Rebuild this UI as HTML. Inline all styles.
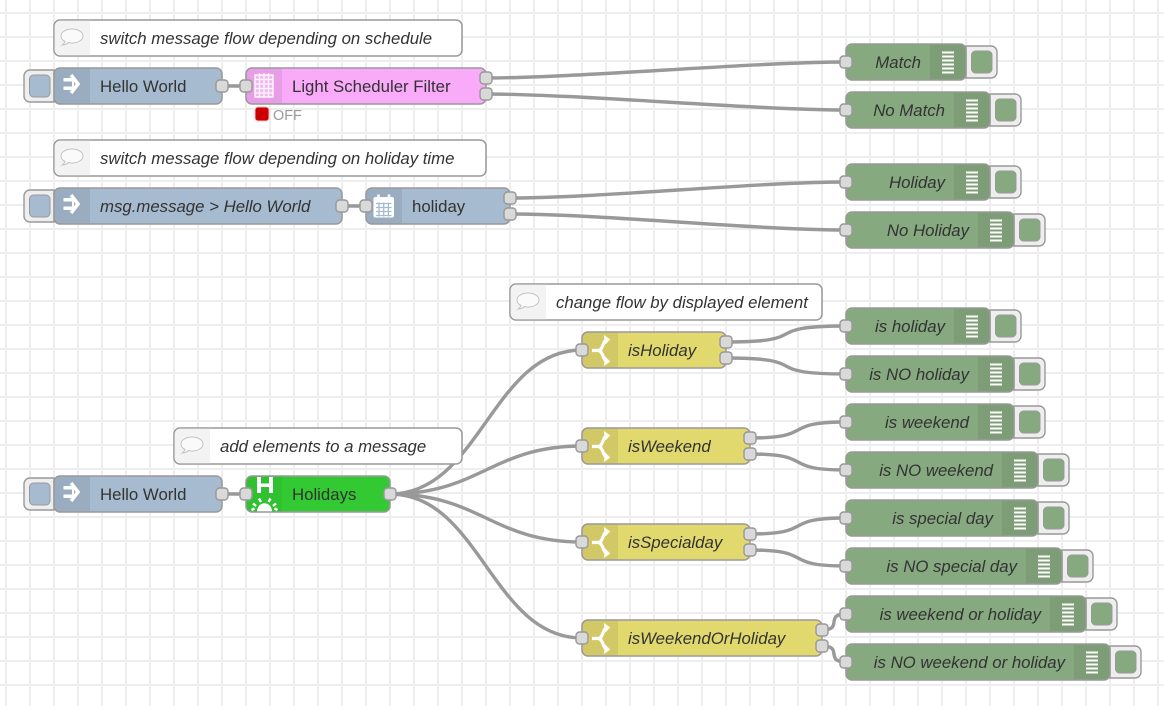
<!DOCTYPE html>
<html><head><meta charset="utf-8"><style>
html,body{margin:0;padding:0;background:#fff}
svg{display:block}
text{font-family:"Liberation Sans",Arial,sans-serif;font-size:16.8px;fill:#333}
.i{font-style:italic}
.w{fill:none;stroke:#999;stroke-width:3.4}
.n{stroke:#999;stroke-width:1.5}
.s{fill:rgba(0,0,0,.07)}
.p{fill:#d9d9d9;stroke:#999;stroke-width:1.4}
.b{fill:#eee;stroke:#999;stroke-width:1.4}
</style></head><body>
<svg width="1164" height="706" viewBox="0 0 1164 706" xmlns="http://www.w3.org/2000/svg">
<defs>
<pattern id="g" x="-6" y="1" width="24" height="24" patternUnits="userSpaceOnUse"><path d="M12 0V24M0 12H24" stroke="#eee" stroke-width="2" fill="none"/></pattern>
<g id="arrow"><path d="M9.500 10H20v3.500H9.500zM9.500 18.500H20V22H9.500z" fill="#fff"/><path d="M17 7l7 9-7 9" fill="none" stroke="#fff" stroke-width="3.600"/><path d="M18 12h2v8h-2z" fill="#fff"/></g>
<g id="bubble"><path d="M19 9c-6 0-11 3-11 7 0 2.500 2 4.500 4 5.500-.5 1.500-1.500 2.500-3 3.500 3 0 5-1 6.500-2.500 1 .3 2.300.5 3.500.5 6 0 11-3 11-7s-5-7-11-7z" fill="#fafafa" stroke="#c4c4c4" stroke-width="1"/></g>
<g id="dbg" stroke="#fff" stroke-width="2"><path d="M12 8.500h12M12 12.500h12M12 16.500h12M12 20.500h12M12 24.500h12M12 28.500h12"/></g>
<g id="sw" fill="none" stroke="#fff" stroke-width="3.200"><path d="M10 18.500h6c3 0 4-3 5-5.500 1-3 2-5 4-5.500M16 18.500c3 0 4 3 5 5.500 1 3 2 5 4 5.500"/><path d="M22.500 4l5 3.500-4 4zM22.500 33l5-3.500-4-4z" fill="#fff" stroke-width="1"/></g>
</defs>
<rect width="1164" height="706" fill="#fff"/>
<rect width="1164" height="706" fill="url(#g)"/>

<!-- wires -->
<path class="w" d="M222 86H246M342 206H366M222 494H246"/>
<path class="w" d="M486 78C576 78 756 62 846 62M486 94C576 94 756 110 846 110"/>
<path class="w" d="M510 198C600 198 756 182 846 182M510 214C600 214 756 230 846 230"/>
<path class="w" d="M726 342C816 342 756 326 846 326M726 358C816 358 756 374 846 374"/>
<path class="w" d="M750 438C817 438 779 422 846 422M750 454C817 454 779 470 846 470"/>
<path class="w" d="M750 534C817 534 779 518 846 518M750 550C817 550 779 566 846 566"/>
<path class="w" d="M822 630C844 630 824 614 846 614M822 646C844 646 824 662 846 662"/>
<path class="w" d="M390 494C480 494 492 350 582 350M390 494C480 494 492 446 582 446M390 494C480 494 492 542 582 542M390 494C480 494 492 638 582 638"/>

<!-- comments -->
<g>
<rect class="n" x="54" y="20" width="408" height="36" rx="6" fill="#fff"/><path d="M60 20.700h30v34.600H60a5.300 5.300 0 0 1-5.300-5.300V26a5.300 5.300 0 0 1 5.300-5.300z" fill="#f3f3f3"/><use href="#bubble" x="53" y="20"/><text class="i" x="100" y="44">switch message flow depending on schedule</text>
<rect class="n" x="54" y="140" width="432" height="36" rx="6" fill="#fff"/><path d="M60 140.700h30v34.600H60a5.300 5.300 0 0 1-5.300-5.300V146a5.300 5.300 0 0 1 5.300-5.300z" fill="#f3f3f3"/><use href="#bubble" x="53" y="140"/><text class="i" x="100" y="164">switch message flow depending on holiday time</text>
<rect class="n" x="510" y="284" width="312" height="36" rx="6" fill="#fff"/><path d="M516 284.700h30v34.600h-30a5.300 5.300 0 0 1-5.300-5.300V290a5.300 5.300 0 0 1 5.300-5.300z" fill="#f3f3f3"/><use href="#bubble" x="509" y="284"/><text class="i" x="556" y="308">change flow by displayed element</text>
<rect class="n" x="174" y="428" width="288" height="36" rx="6" fill="#fff"/><path d="M180 428.700h30v34.600h-30a5.300 5.300 0 0 1-5.300-5.300V434a5.300 5.300 0 0 1 5.300-5.300z" fill="#f3f3f3"/><use href="#bubble" x="173" y="428"/><text class="i" x="220" y="452">add elements to a message</text>
</g>

<!-- inject nodes -->
<g>
<path class="b" d="M54 70H30a6 6 0 0 0-6 6v20a6 6 0 0 0 6 6h24z"/><rect x="29.500" y="75" width="20.500" height="22" rx="4" fill="#a6bbcf" stroke="#999"/>
<rect class="n" x="54" y="68" width="168" height="36" rx="6" fill="#a6bbcf"/><path class="s" d="M90 68.700v34.600H60a5.300 5.300 0 0 1-5.300-5.300V74a5.300 5.300 0 0 1 5.300-5.300z"/><use href="#arrow" x="54" y="68"/><text x="100" y="92">Hello World</text>
<path class="b" d="M54 190H30a6 6 0 0 0-6 6v20a6 6 0 0 0 6 6h24z"/><rect x="29.500" y="195" width="20.500" height="22" rx="4" fill="#a6bbcf" stroke="#999"/>
<rect class="n" x="54" y="188" width="288" height="36" rx="6" fill="#a6bbcf"/><path class="s" d="M90 188.700v34.600H60a5.300 5.300 0 0 1-5.300-5.300V194a5.300 5.300 0 0 1 5.300-5.300z"/><use href="#arrow" x="54" y="188"/><text class="i" x="100" y="212">msg.message &gt; Hello World</text>
<path class="b" d="M54 478H30a6 6 0 0 0-6 6v20a6 6 0 0 0 6 6h24z"/><rect x="29.500" y="483" width="20.500" height="22" rx="4" fill="#a6bbcf" stroke="#999"/>
<rect class="n" x="54" y="476" width="168" height="36" rx="6" fill="#a6bbcf"/><path class="s" d="M90 476.700v34.600H60a5.300 5.300 0 0 1-5.300-5.300V482a5.300 5.300 0 0 1 5.300-5.300z"/><use href="#arrow" x="54" y="476"/><text x="100" y="500">Hello World</text>
</g>

<!-- light scheduler -->
<rect class="n" x="246" y="68" width="240" height="36" rx="6" fill="#f9aaf9"/><path class="s" d="M282 68.700v34.600h-30a5.300 5.300 0 0 1-5.300-5.300V74a5.300 5.300 0 0 1 5.300-5.300z"/>
<g fill="none" stroke="#fff" stroke-opacity=".85"><rect x="255" y="75" width="18" height="22" fill="#fff" fill-opacity=".3" stroke-width="1.500"/><path d="M259.500 73v24M264 73v24M268.500 73v24M255 79.500h18M255 84h18M255 88.500h18M255 93h18" stroke-width="1.300"/></g>
<text x="292" y="92">Light Scheduler Filter</text>
<rect x="255" y="107" width="14" height="14" rx="3" fill="#c00" stroke="#f3c0c0"/>
<text x="273" y="120" style="font-size:14.400px;fill:#999">OFF</text>

<!-- holiday -->
<rect class="n" x="366" y="188" width="144" height="36" rx="6" fill="#a6bbcf"/><path class="s" d="M402 188.700v34.600h-30a5.300 5.300 0 0 1-5.300-5.300V194a5.300 5.300 0 0 1 5.300-5.300z"/>
<g><rect x="373.500" y="197" width="20.500" height="20.500" rx="2" fill="#fff"/><path d="M378.500 194.500v5M389 194.500v5" stroke="#fff" stroke-width="2.500"/><path d="M376 203.500h15.500M376 207.500h15.500M376 211.500h15.500M376 215.500h15.500M379 202.500v14M383.700 202.500v14M388.400 202.500v14" stroke="#a6bbcf" stroke-width="1.300"/></g>
<text x="412" y="212">holiday</text>

<!-- holidays -->
<rect class="n" x="246" y="476" width="144" height="36" rx="6" fill="#32c932"/><path d="M282 476.700v34.600h-30a5.300 5.300 0 0 1-5.300-5.300V482a5.300 5.300 0 0 1 5.300-5.300z" fill="rgba(0,0,0,.04)"/>
<path d="M257 477h4v6.500h8V477h4v16h-4v-6h-8v6h-4z" fill="#fff"/>
<path d="M257 511.300a7.500 8 0 0 1 15 0z" fill="#fff"/>
<path d="M259 498.500l2 3.500M270.500 498.500l-2 3.500M253 503.500l3 2.500M276 503.500l-3 2.500M251.500 510l3-1.500M277.500 510l-3-1.500" stroke="#fff" stroke-width="2.400"/>
<text x="292" y="500">Holidays</text>

<!-- switch nodes -->
<g fill="#e2d96e">
<rect class="n" x="582" y="332" width="144" height="36" rx="6"/><rect class="n" x="582" y="428" width="168" height="36" rx="6"/><rect class="n" x="582" y="524" width="168" height="36" rx="6"/><rect class="n" x="582" y="620" width="240" height="36" rx="6"/>
</g>
<path class="s" d="M618 332.700v34.600h-30a5.300 5.300 0 0 1-5.300-5.300V338a5.300 5.300 0 0 1 5.300-5.300z"/>
<path class="s" d="M618 428.700v34.600h-30a5.300 5.300 0 0 1-5.300-5.300V434a5.300 5.300 0 0 1 5.300-5.300z"/>
<path class="s" d="M618 524.700v34.600h-30a5.300 5.300 0 0 1-5.300-5.300V530a5.300 5.300 0 0 1 5.300-5.300z"/>
<path class="s" d="M618 620.700v34.600h-30a5.300 5.300 0 0 1-5.300-5.300V626a5.300 5.300 0 0 1 5.300-5.300z"/>
<use href="#sw" x="582" y="332"/><use href="#sw" x="582" y="428"/><use href="#sw" x="582" y="524"/><use href="#sw" x="582" y="620"/>
<text class="i" x="628" y="356">isHoliday</text>
<text class="i" x="628" y="452">isWeekend</text>
<text class="i" x="628" y="548">isSpecialday</text>
<text class="i" x="628" y="644">isWeekendOrHoliday</text>

<!-- debug buttons -->
<g>
<path class="b" d="M966 46h25a6 6 0 0 1 6 6v20a6 6 0 0 1-6 6h-25z"/><rect x="971.500" y="51" width="20.500" height="22" rx="4" fill="#87a980" stroke="#999"/>
<path class="b" d="M990 94h25a6 6 0 0 1 6 6v20a6 6 0 0 1-6 6h-25z"/><rect x="995.500" y="99" width="20.500" height="22" rx="4" fill="#87a980" stroke="#999"/>
<path class="b" d="M990 166h25a6 6 0 0 1 6 6v20a6 6 0 0 1-6 6h-25z"/><rect x="995.500" y="171" width="20.500" height="22" rx="4" fill="#87a980" stroke="#999"/>
<path class="b" d="M1014 214h25a6 6 0 0 1 6 6v20a6 6 0 0 1-6 6h-25z"/><rect x="1019.500" y="219" width="20.500" height="22" rx="4" fill="#87a980" stroke="#999"/>
<path class="b" d="M990 310h25a6 6 0 0 1 6 6v20a6 6 0 0 1-6 6h-25z"/><rect x="995.500" y="315" width="20.500" height="22" rx="4" fill="#87a980" stroke="#999"/>
<path class="b" d="M1014 358h25a6 6 0 0 1 6 6v20a6 6 0 0 1-6 6h-25z"/><rect x="1019.500" y="363" width="20.500" height="22" rx="4" fill="#87a980" stroke="#999"/>
<path class="b" d="M1014 406h25a6 6 0 0 1 6 6v20a6 6 0 0 1-6 6h-25z"/><rect x="1019.500" y="411" width="20.500" height="22" rx="4" fill="#87a980" stroke="#999"/>
<path class="b" d="M1038 454h25a6 6 0 0 1 6 6v20a6 6 0 0 1-6 6h-25z"/><rect x="1043.500" y="459" width="20.500" height="22" rx="4" fill="#87a980" stroke="#999"/>
<path class="b" d="M1038 502h25a6 6 0 0 1 6 6v20a6 6 0 0 1-6 6h-25z"/><rect x="1043.500" y="507" width="20.500" height="22" rx="4" fill="#87a980" stroke="#999"/>
<path class="b" d="M1062 550h25a6 6 0 0 1 6 6v20a6 6 0 0 1-6 6h-25z"/><rect x="1067.500" y="555" width="20.500" height="22" rx="4" fill="#87a980" stroke="#999"/>
<path class="b" d="M1086 598h25a6 6 0 0 1 6 6v20a6 6 0 0 1-6 6h-25z"/><rect x="1091.500" y="603" width="20.500" height="22" rx="4" fill="#87a980" stroke="#999"/>
<path class="b" d="M1110 646h25a6 6 0 0 1 6 6v20a6 6 0 0 1-6 6h-25z"/><rect x="1115.500" y="651" width="20.500" height="22" rx="4" fill="#87a980" stroke="#999"/>
</g>

<!-- debug nodes -->
<g fill="#87a980">
<rect class="n" x="846" y="44" width="120" height="36" rx="6"/>
<rect class="n" x="846" y="92" width="144" height="36" rx="6"/>
<rect class="n" x="846" y="164" width="144" height="36" rx="6"/>
<rect class="n" x="846" y="212" width="168" height="36" rx="6"/>
<rect class="n" x="846" y="308" width="144" height="36" rx="6"/>
<rect class="n" x="846" y="356" width="168" height="36" rx="6"/>
<rect class="n" x="846" y="404" width="168" height="36" rx="6"/>
<rect class="n" x="846" y="452" width="192" height="36" rx="6"/>
<rect class="n" x="846" y="500" width="192" height="36" rx="6"/>
<rect class="n" x="846" y="548" width="216" height="36" rx="6"/>
<rect class="n" x="846" y="596" width="240" height="36" rx="6"/>
<rect class="n" x="846" y="644" width="264" height="36" rx="6"/>
</g>
<g class="s">
<path d="M930 44.700h30.300a5 5 0 0 1 5 5v24.600a5 5 0 0 1-5 5H930z"/>
<path d="M954 92.700h30.300a5 5 0 0 1 5 5v24.600a5 5 0 0 1-5 5H954z"/>
<path d="M954 164.700h30.300a5 5 0 0 1 5 5v24.600a5 5 0 0 1-5 5H954z"/>
<path d="M978 212.700h30.300a5 5 0 0 1 5 5v24.600a5 5 0 0 1-5 5H978z"/>
<path d="M954 308.700h30.300a5 5 0 0 1 5 5v24.600a5 5 0 0 1-5 5H954z"/>
<path d="M978 356.700h30.300a5 5 0 0 1 5 5v24.600a5 5 0 0 1-5 5H978z"/>
<path d="M978 404.700h30.300a5 5 0 0 1 5 5v24.600a5 5 0 0 1-5 5H978z"/>
<path d="M1002 452.700h30.300a5 5 0 0 1 5 5v24.600a5 5 0 0 1-5 5h-30.300z"/>
<path d="M1002 500.700h30.300a5 5 0 0 1 5 5v24.600a5 5 0 0 1-5 5h-30.300z"/>
<path d="M1026 548.700h30.300a5 5 0 0 1 5 5v24.600a5 5 0 0 1-5 5h-30.300z"/>
<path d="M1050 596.700h30.300a5 5 0 0 1 5 5v24.600a5 5 0 0 1-5 5h-30.300z"/>
<path d="M1074 644.700h30.300a5 5 0 0 1 5 5v24.600a5 5 0 0 1-5 5h-30.300z"/>
</g>
<use href="#dbg" x="930" y="44"/><use href="#dbg" x="954" y="92"/><use href="#dbg" x="954" y="164"/><use href="#dbg" x="978" y="212"/>
<use href="#dbg" x="954" y="308"/><use href="#dbg" x="978" y="356"/><use href="#dbg" x="978" y="404"/><use href="#dbg" x="1002" y="452"/>
<use href="#dbg" x="1002" y="500"/><use href="#dbg" x="1026" y="548"/><use href="#dbg" x="1050" y="596"/><use href="#dbg" x="1074" y="644"/>
<g class="i" text-anchor="end">
<text x="921" y="68">Match</text>
<text x="945" y="116">No Match</text>
<text x="945" y="188">Holiday</text>
<text x="969" y="236">No Holiday</text>
<text x="945" y="332">is holiday</text>
<text x="969" y="380">is NO holiday</text>
<text x="969" y="428">is weekend</text>
<text x="993" y="476">is NO weekend</text>
<text x="993" y="524">is special day</text>
<text x="1017" y="572">is NO special day</text>
<text x="1041" y="620">is weekend or holiday</text>
<text x="1065" y="668">is NO weekend or holiday</text>
</g>

<!-- ports -->
<g class="p">
<rect x="216" y="80" width="12" height="12" rx="3.500"/><rect x="240" y="80" width="12" height="12" rx="3.500"/>
<rect x="480" y="72" width="12" height="12" rx="3.500"/><rect x="480" y="88" width="12" height="12" rx="3.500"/>
<rect x="336" y="200" width="12" height="12" rx="3.500"/><rect x="360" y="200" width="12" height="12" rx="3.500"/>
<rect x="504" y="192" width="12" height="12" rx="3.500"/><rect x="504" y="208" width="12" height="12" rx="3.500"/>
<rect x="216" y="488" width="12" height="12" rx="3.500"/><rect x="240" y="488" width="12" height="12" rx="3.500"/>
<rect x="384" y="488" width="12" height="12" rx="3.500"/>
<rect x="576" y="344" width="12" height="12" rx="3.500"/><rect x="576" y="440" width="12" height="12" rx="3.500"/><rect x="576" y="536" width="12" height="12" rx="3.500"/><rect x="576" y="632" width="12" height="12" rx="3.500"/>
<rect x="720" y="336" width="12" height="12" rx="3.500"/><rect x="720" y="352" width="12" height="12" rx="3.500"/>
<rect x="744" y="432" width="12" height="12" rx="3.500"/><rect x="744" y="448" width="12" height="12" rx="3.500"/>
<rect x="744" y="528" width="12" height="12" rx="3.500"/><rect x="744" y="544" width="12" height="12" rx="3.500"/>
<rect x="816" y="624" width="12" height="12" rx="3.500"/><rect x="816" y="640" width="12" height="12" rx="3.500"/>
<rect x="840" y="56" width="12" height="12" rx="3.500"/><rect x="840" y="104" width="12" height="12" rx="3.500"/><rect x="840" y="176" width="12" height="12" rx="3.500"/><rect x="840" y="224" width="12" height="12" rx="3.500"/>
<rect x="840" y="320" width="12" height="12" rx="3.500"/><rect x="840" y="368" width="12" height="12" rx="3.500"/><rect x="840" y="416" width="12" height="12" rx="3.500"/><rect x="840" y="464" width="12" height="12" rx="3.500"/>
<rect x="840" y="512" width="12" height="12" rx="3.500"/><rect x="840" y="560" width="12" height="12" rx="3.500"/><rect x="840" y="608" width="12" height="12" rx="3.500"/><rect x="840" y="656" width="12" height="12" rx="3.500"/>
</g>
</svg>
</body></html>
